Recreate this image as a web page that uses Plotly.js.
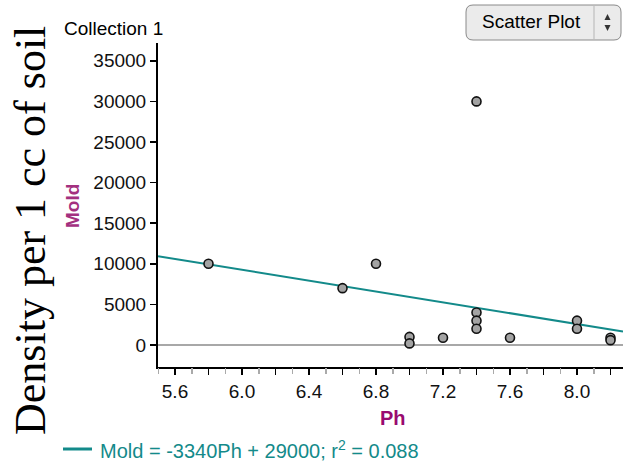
<!DOCTYPE html>
<html>
<head>
<meta charset="utf-8">
<script src="https://cdn.plot.ly/plotly-3.0.1.min.js"></script>
<style>
html,body{margin:0;padding:0;background:#fff;}
#chart{width:623px;height:464px;}
</style>
</head>
<body>
<div id="chart"></div>
<script>
// ---- data ----
const ph   = [5.8, 6.6, 6.8, 7.0, 7.0, 7.2, 7.4, 7.4, 7.4, 7.4, 7.6, 8.0, 8.0, 8.2, 8.2];
const mold = [10000, 7000, 10000, 1000, 200, 900, 30000, 4000, 3000, 2000, 900, 3000, 2000, 900, 600];
const fitSlope = -3340;
const fitIntercept = 29300;   // as drawn (label rounds to 29000)
const fitLabel = 'Mold = -3340Ph + 29000; r<sup>2</sup> = 0.088';
const xLabelVals = [5.6, 6.0, 6.4, 6.8, 7.2, 7.6, 8.0];
const xLabelText = ['5.6', '6.0', '6.4', '6.8', '7.2', '7.6', '8.0'];
const xMidVals = [5.8, 6.2, 6.6, 7.0, 7.4, 7.8, 8.2];
const xOddVals = [5.5, 5.7, 5.9, 6.1, 6.3, 6.5, 6.7, 6.9, 7.1, 7.3, 7.5, 7.7, 7.9, 8.1];
const yTickVals = [0, 5000, 10000, 15000, 20000, 25000, 30000, 35000];

// ---- geometry ----
const W = 623, H = 464;
const M = {l: 158, r: 0, t: 43, b: 97};
const xRange = [5.4985, 8.2746];
const yRange = [-2709, 37192];
const PW = W - M.l - M.r, PH = H - M.t - M.b;
const px = x => (x - M.l) / PW;
const py = y => (H - M.b - y) / PH;

const fitX = xRange.slice();
const fitY = fitX.map(x => fitSlope * x + fitIntercept);

const teal = '#138a8a';
const font = "'Liberation Sans', Arial, sans-serif";

const traces = [
  {x: [], y: [], xaxis: 'x2', yaxis: 'y', mode: 'markers', hoverinfo: 'skip'},
  {x: fitX, y: fitY, mode: 'lines', line: {color: teal, width: 2}, hoverinfo: 'skip'},
  {x: ph, y: mold, mode: 'markers', cliponaxis: false,
   marker: {size: 9, color: '#a3a3a3', line: {color: '#111', width: 1.6}}}
];

function rrect(x0, y0, x1, y1, r) {
  const X0 = px(x0), X1 = px(x1), Y0 = py(y0), Y1 = py(y1);
  const rx = r / PW, ry = r / PH;
  return `M${X0+rx},${Y0} L${X1-rx},${Y0} Q${X1},${Y0} ${X1},${Y0-ry} L${X1},${Y1+ry} Q${X1},${Y1} ${X1-rx},${Y1} L${X0+rx},${Y1} Q${X0},${Y1} ${X0},${Y1+ry} L${X0},${Y0-ry} Q${X0},${Y0} ${X0+rx},${Y0} Z`;
}
function tri(cx, cy, w, h, up) {
  const a = up ? cy + h/2 : cy - h/2, b = up ? cy - h/2 : cy + h/2;
  return `M${px(cx - w/2)},${py(a)} L${px(cx + w/2)},${py(a)} L${px(cx)},${py(b)} Z`;
}

const shapes = [
  {type: 'path', xref: 'paper', yref: 'paper', path: rrect(466, 5, 621, 40, 7),
   fillcolor: '#ebebeb', line: {color: '#8a8a8a', width: 1}},
  {type: 'line', xref: 'paper', yref: 'paper', x0: px(594), x1: px(594), y0: py(6), y1: py(39),
   line: {color: '#b5b5b5', width: 1}},
  {type: 'path', xref: 'paper', yref: 'paper', path: tri(607.5, 17, 6, 6, true),
   fillcolor: '#333', line: {width: 0}},
  {type: 'path', xref: 'paper', yref: 'paper', path: tri(607.5, 28, 6, 6, false),
   fillcolor: '#333', line: {width: 0}},
  {type: 'line', xref: 'paper', yref: 'paper', x0: px(63), x1: px(92), y0: py(449), y1: py(449),
   line: {color: teal, width: 3}}
];

const annotations = [
  {xref: 'paper', yref: 'paper', x: px(62), y: py(28), xanchor: 'left', yanchor: 'middle',
   text: 'Collection 1', showarrow: false, font: {family: font, size: 19, color: '#000'}},
  {xref: 'paper', yref: 'paper', x: px(531), y: py(22), xanchor: 'center', yanchor: 'middle',
   text: 'Scatter Plot', showarrow: false, font: {family: font, size: 19, color: '#000'}},
  {xref: 'paper', yref: 'paper', x: px(72), y: py(206), xanchor: 'center', yanchor: 'middle',
   text: '<b>Mold</b>', textangle: -90, showarrow: false, font: {family: font, size: 19, color: '#a3307f'}},
  {xref: 'paper', yref: 'paper', x: px(30), y: py(231), xanchor: 'center', yanchor: 'middle',
   text: 'Density per 1 cc of soil', textangle: -90, showarrow: false,
   font: {family: "'Liberation Serif', 'Times New Roman', serif", size: 44, color: '#000'}},
  {xref: 'paper', yref: 'paper', x: px(393), y: py(418), xanchor: 'center', yanchor: 'middle',
   text: '<b>Ph</b>', showarrow: false, font: {family: font, size: 20, color: '#990a70'}},
  {xref: 'paper', yref: 'paper', x: px(98), y: py(449), xanchor: 'left', yanchor: 'middle',
   text: fitLabel, showarrow: false, font: {family: font, size: 20, color: teal}}
];

const tickFont = {family: font, size: 19, color: '#111'};

const layout = {
  width: W, height: H,
  margin: M,
  paper_bgcolor: '#fff', plot_bgcolor: '#fff',
  showlegend: false,
  font: {family: font, size: 19, color: '#111'},
  xaxis: {
    range: xRange, showgrid: false, zeroline: false,
    showline: true, linecolor: '#000', linewidth: 2,
    tickmode: 'array', tickvals: xLabelVals, ticktext: xLabelText,
    ticks: 'outside', ticklen: 6, tickwidth: 1.5, tickcolor: '#000',
    tickfont: tickFont,
    minor: {tickmode: 'array', tickvals: xMidVals, ticks: 'outside', ticklen: 6, tickwidth: 1.5, tickcolor: '#000', showgrid: false}
  },
  xaxis2: {
    overlaying: 'x', anchor: 'y', side: 'bottom', matches: 'x',
    range: xRange, showgrid: false, zeroline: false, showline: false,
    showticklabels: false,
    tickmode: 'array', tickvals: xOddVals,
    ticks: 'outside', ticklen: 6, tickwidth: 1.5, tickcolor: '#aaa'
  },
  yaxis: {
    range: yRange, showgrid: false,
    zeroline: true, zerolinecolor: '#a8a8a8', zerolinewidth: 1.5,
    showline: true, linecolor: '#000', linewidth: 2,
    tickmode: 'array', tickvals: yTickVals, tickformat: 'd',
    ticks: 'outside', ticklen: 6, tickwidth: 1.5, tickcolor: '#000',
    tickfont: tickFont
  },
  shapes: shapes,
  annotations: annotations
};

Plotly.newPlot('chart', traces, layout, {displayModeBar: false, staticPlot: true});
</script>
</body>
</html>
